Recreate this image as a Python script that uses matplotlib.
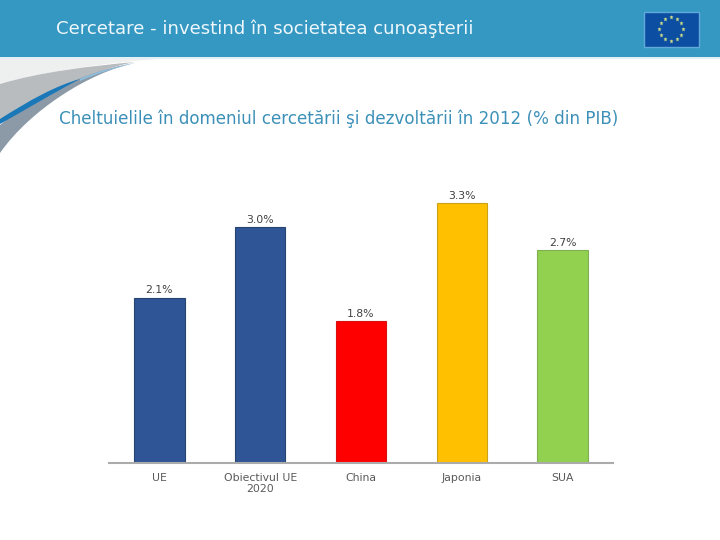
import numpy as np
import matplotlib
matplotlib.use("Agg")
import matplotlib.pyplot as plt
from matplotlib.path import Path
from matplotlib.patches import PathPatch, Rectangle

# valori
categories = ["UE", "Obiectivul UE\n2020", "China", "Japonia", "SUA"]
values = [2.1, 3.0, 1.8, 3.3, 2.7]
value_labels = ["2.1%", "3.0%", "1.8%", "3.3%", "2.7%"]
bar_colors = ["#2F5597", "#2F5597", "#FF0000", "#FFC000", "#92D050"]
edge_colors = ["#26446F", "#26446F", "#D81010", "#C9A21A", "#7FAF50"]

title = "Cercetare - investind în societatea cunoaşterii"
subtitle = "Cheltuielile în domeniul cercetării şi dezvoltării în 2012 (% din PIB)"

fig = plt.figure(figsize=(7.2, 5.4), dpi=100)

# fundalul slide-ului, in pixeli
bg = fig.add_axes([0, 0, 1, 1])
bg.set_xlim(0, 720)
bg.set_ylim(540, 0)
bg.axis("off")

def shape(verts, color, z):
    codes = [Path.MOVETO] + [Path.CURVE4] * (len(verts) - 1)
    bg.add_patch(PathPatch(Path(verts, codes), fc=color, ec="none", zorder=z))

# banda de sus
bg.add_patch(Rectangle((0, 0), 720, 57, fc="#3498C3", ec="none", zorder=3))
bg.add_patch(Rectangle((0, 57), 720, 1.5, fc="#E4F0F5", ec="none", zorder=3))

# arcul din stanga
shape([(0, 58), (0, 58), (60, 58), (170, 58),
       (110, 62), (40, 72), (0, 84),
       (0, 84), (0, 70), (0, 58)], "#EEF0F0", 1)
shape([(0, 84), (40, 72), (90, 66), (135, 62),
       (90, 70), (30, 102), (0, 122),
       (0, 122), (0, 100), (0, 84)], "#B9BCBF", 1.1)
shape([(0, 125), (30, 100), (80, 72), (135, 63),
       (90, 72), (30, 110), (0, 153),
       (0, 153), (0, 140), (0, 125)], "#8C9AA8", 1.2)
shape([(0, 119), (30, 100), (55, 86), (80, 79),
       (55, 92), (25, 110), (0, 124),
       (0, 124), (0, 122), (0, 119)], "#1B78B8", 1.3)
shape([(80, 79), (95, 72), (115, 67), (135, 63),
       (115, 68), (95, 74), (80, 81),
       (80, 81), (80, 80), (80, 79)], "#8CC0E0", 1.3)

# steagul UE
bg.add_patch(Rectangle((643.5, 11.5), 55, 35, fc="#0B4EA2", ec="#62A8D8", lw=1, zorder=4))
angles = np.arange(12) * np.pi / 6
bg.plot(671 + 12 * np.cos(angles), 29 + 12 * np.sin(angles), ls="none", marker="*",
        ms=3.6, mfc="#C8D88A", mec="none", zorder=5)

bg.text(56, 28.5, title, color="#EEF7FB", fontsize=13.1, va="center", ha="left", zorder=6)
bg.text(59, 118.5, subtitle, color="#3C90B8", fontsize=12.05, va="center", ha="left", zorder=6)

# graficul
ax = fig.add_axes([109 / 720, (540 - 463) / 540, 504 / 720, 300 / 540])
ax.patch.set_alpha(0)
x = np.arange(len(categories))
ax.bar(x, values, width=0.5, color=bar_colors, edgecolor=edge_colors, linewidth=0.8)
for xi, v, lab in zip(x, values, value_labels):
    ax.annotate(lab, (xi, v), xytext=(0, 1.5), textcoords="offset points", ha="center", va="bottom",
                fontsize=7.8, color="#404040")
ax.set_xlim(-0.5, 4.5)
ax.set_ylim(0, 300 / (260 / 3.3))
ax.set_xticks(x)
ax.set_xticklabels(categories, fontsize=7.8, color="#595959", linespacing=1.15)
ax.tick_params(axis="x", length=0, pad=7)
ax.set_yticks([])
for s in ["top", "left", "right"]:
    ax.spines[s].set_visible(False)
ax.spines["bottom"].set_color("#ABABAB")
ax.spines["bottom"].set_linewidth(1.5)

fig.savefig("out.png", dpi=100)
